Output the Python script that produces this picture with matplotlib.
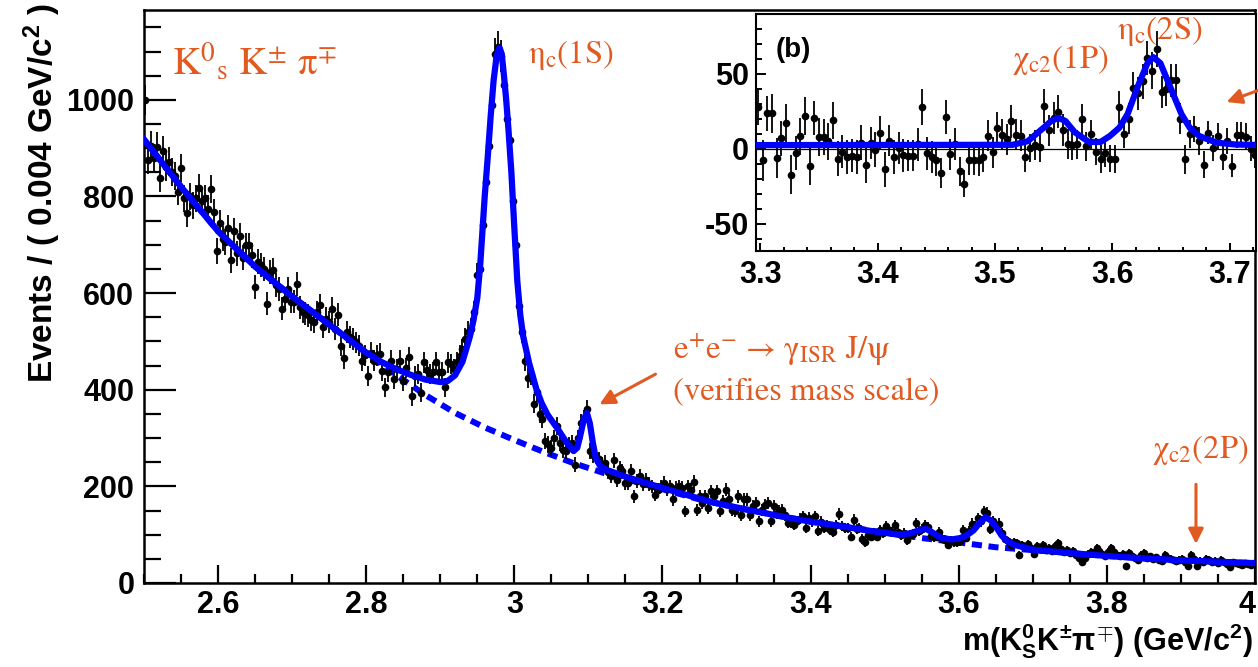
import numpy as np
import matplotlib
matplotlib.use("Agg")
import matplotlib.pyplot as plt
from matplotlib.ticker import MultipleLocator, FixedLocator

plt.rcParams["font.family"] = ["Liberation Sans", "DejaVu Sans"]
plt.rcParams["axes.unicode_minus"] = False
plt.rcParams["mathtext.fontset"] = "custom"
plt.rcParams["mathtext.rm"] = "Liberation Sans:bold"
plt.rcParams["mathtext.it"] = "Liberation Sans:bold"
plt.rcParams["mathtext.bf"] = "Liberation Sans:bold"
plt.rcParams["mathtext.sf"] = "Liberation Sans:bold"

# events per 4 MeV bin, 2.500 - 4.000 GeV
counts = [
    1000, 876, 905, 880, 903, 838, 895, 862, 872, 850, 842, 810, 859, 796, 765, 800, 782, 796, 818, 790, 796, 775, 815, 767, 687,
    745, 713, 706, 735, 668, 728, 682, 718, 673, 699, 699, 678, 612, 665, 658, 650, 578, 644, 647, 616, 609, 568, 588, 609, 582,
    582, 619, 571, 561, 558, 554, 544, 540, 560, 575, 530, 547, 540, 568, 526, 555, 491, 465, 520, 509, 505, 498, 491, 460, 471,
    429, 477, 460, 471, 474, 439, 405, 436, 460, 422, 443, 460, 418, 445, 467, 387, 429, 432, 394, 457, 440, 432, 436, 457, 436,
    436, 405, 457, 453, 443, 457, 470, 484, 505, 520, 525, 560, 637, 650, 740, 830, 905, 990, 1094, 1110, 1090, 1030, 960, 916, 790,
    700, 574, 520, 460, 425, 430, 371, 395, 350, 340, 294, 287, 280, 300, 325, 290, 276, 273, 285, 290, 245, 300, 332, 340, 360,
    273, 265, 262, 256, 245, 249, 230, 221, 254, 214, 238, 231, 207, 207, 231, 180, 212, 221, 204, 214, 205, 200, 183, 193, 200,
    207, 195, 200, 173, 197, 200, 197, 148, 200, 193, 210, 152, 180, 166, 180, 155, 190, 180, 190, 148, 170, 193, 173, 152, 148,
    180, 141, 173, 173, 141, 159, 166, 128, 152, 162, 166, 128, 159, 145, 150, 152, 140, 124, 124, 121, 128, 133, 138, 114, 135,
    128, 138, 108, 127, 114, 120, 110, 106, 120, 143, 118, 114, 114, 96, 131, 112, 114, 91, 84, 100, 96, 104, 96, 110, 103,
    117, 110, 106, 120, 106, 100, 104, 89, 100, 102, 124, 108, 112, 120, 115, 98, 95, 96, 106, 92, 90, 79, 88, 84, 84,
    86, 110, 94, 108, 123, 118, 134, 128, 148, 145, 111, 128, 118, 123, 104, 92, 86, 79, 84, 82, 58, 78, 74, 80, 72,
    60, 77, 70, 79, 69, 72, 66, 76, 82, 70, 64, 68, 62, 66, 58, 52, 44, 51, 60, 65, 62, 72, 66, 60, 56,
    64, 72, 65, 58, 56, 60, 35, 62, 56, 52, 48, 58, 62, 52, 55, 50, 53, 48, 46, 58, 52, 50, 47, 45, 48,
    50, 44, 35, 58, 50, 35, 46, 44, 50, 48, 43, 46, 42, 48, 44, 40, 34, 44, 42, 40, 38, 42, 40, 38, 42,
]
mass = 2.502 + 0.004 * np.arange(len(counts))

# total fit
fit_x = [2.50, 2.55, 2.60, 2.65, 2.70, 2.75, 2.80, 2.82, 2.84, 2.86, 2.88, 2.90, 2.91, 2.92, 2.93,
         2.94, 2.945, 2.95, 2.954, 2.957, 2.960, 2.964, 2.968, 2.972, 2.976, 2.980, 2.983, 2.986,
         2.989, 2.992, 2.996, 3.000, 3.004, 3.008, 3.012, 3.020, 3.030, 3.037, 3.045, 3.059, 3.070,
         3.080, 3.085, 3.089, 3.094, 3.098, 3.102, 3.106, 3.110, 3.116, 3.125, 3.15, 3.18, 3.224,
         3.27, 3.314, 3.36, 3.40, 3.44, 3.48, 3.52, 3.535, 3.548, 3.556, 3.564, 3.575, 3.59, 3.602,
         3.612, 3.62, 3.628, 3.636, 3.643, 3.65, 3.658, 3.666, 3.675, 3.70, 3.75, 3.80, 3.85, 3.90,
         3.95, 4.00]
fit_y = [918, 820, 728, 655, 593, 535, 477, 458, 443, 431, 421, 416, 418, 430, 458,
         510, 545, 590, 660, 730, 800, 880, 965, 1040, 1090, 1108, 1095, 1050,
         1000, 940, 850, 735, 625, 555, 510, 455, 400, 372, 348, 318, 292,
         273, 280, 305, 340, 352, 330, 290, 258, 242, 234, 220, 206, 186,
         166, 152, 138, 127, 118, 108, 100, 103, 110, 112, 105, 94, 90, 93,
         100, 109, 124, 136, 130, 117, 98, 86, 79, 69, 62, 56, 51, 47,
         44, 41]

# background component
bg_x = [2.50, 2.55, 2.60, 2.65, 2.70, 2.75, 2.80, 2.84, 2.88, 2.92, 2.96, 3.00, 3.04, 3.08, 3.12,
        3.16, 3.20, 3.25, 3.30, 3.35, 3.40, 3.45, 3.50, 3.55, 3.60, 3.65, 3.70, 3.75, 3.80, 3.85,
        3.90, 3.95, 4.00]
bg_y = [918, 820, 728, 655, 593, 535, 476, 431, 389, 352, 322, 296, 271, 248, 228,
        211, 194, 173, 156, 141, 127, 116, 104, 93, 84, 74, 68, 62, 56, 51,
        47, 44, 41]

# inset (b): background subtracted
inset_counts = [
    27.8, -7.8, 23.5, 23.5, -6.2, 6.9, 17.1, -17.3, -2.6, 8.3, 21.9, -11.4, 20.2, 8.0, 7.6, 5.0, 18.8, -6.6, -1.9, -5.4, -4.7, -5.4, 4.0, -10.9, 4.0,
    -0.7, 10.7, -13.8, 5.2, -5.4, 0.5, -4.3, -4.7, -4.7, 2.9, 27.8, -3.1, -5.4, -7.8, -16.1, 21.2, -3.8, 2.9, -15.0, -23.3, -7.8, -7.8, -7.8, -5.4, 8.8,
    -2.4, 13.6, 9.3, 6.4, 18.3, 9.3, 8.8, -5.4, 0.5, 2.2, 1.2, 28.5, 12.4, 20.7, 24.7, 12.4, 2.9, 2.2, 2.9, 19.5, 1.7, 9.5, -1.9, -6.6, -3.1,
    -6.6, -6.6, 27.8, 10.0, 20.0, 40.2, 36.9, 45.0, 60.4, 52.1, 66.6, 37.8, 40.0, 45.6, 45.6, 20.0, -7.1, 10.0, 13.1, 5.0, -10.7, 10.7, 0.5, 8.3, -5.4,
    5.0, -11.4, 9.3, 9.3, 8.0, 0.0, -4.3,
]
inset_mass = 3.298 + 0.004 * np.arange(len(inset_counts))
inset_err = np.sqrt(counts[199:199 + len(inset_counts)])

inset_fit_x = [3.296, 3.515, 3.528, 3.540, 3.548, 3.554, 3.560, 3.568, 3.580, 3.590, 3.598, 3.606,
               3.613, 3.622, 3.630, 3.635, 3.641, 3.650, 3.659, 3.666, 3.674, 3.689, 3.705, 3.7225]
inset_fit_y = [2.4, 2.6, 5, 13, 18.5, 20.5, 18.5, 11, 4.5, 4.5, 8.5, 14,
               23, 42, 57, 61, 57, 40, 23, 14, 8.5, 4, 2.8, 2.5]

orange = "#E05A22"
serif = dict(fontfamily="STIXGeneral", math_fontfamily="stix", color=orange, fontweight="normal")
arrow = dict(arrowstyle="-|>,head_length=0.9,head_width=0.45", color=orange, lw=2.2)

fig = plt.figure(figsize=(12.58, 6.67), dpi=100)
ax = fig.add_axes([0.11447, 0.12594, 0.88315, 0.85907])

ax.plot(bg_x, bg_y, color="blue", lw=4.3, ls=(0, (1.7, 1.1)), zorder=2)
ax.errorbar(mass, counts, yerr=np.sqrt(counts), fmt="o", color="black", ms=4.5,
            elinewidth=1.3, capsize=0, zorder=3)
ax.plot(fit_x, fit_y, color="blue", lw=4.5, zorder=4)

ax.set_xlim(2.5, 4.0)
ax.set_ylim(0, 1186)
ax.xaxis.set_major_locator(FixedLocator([2.6, 2.8, 3.0, 3.2, 3.4, 3.6, 3.8, 4.0]))
ax.set_xticklabels(["2.6", "2.8", "3", "3.2", "3.4", "3.6", "3.8", "4"])
ax.xaxis.set_minor_locator(MultipleLocator(0.05))
ax.yaxis.set_major_locator(MultipleLocator(200))
ax.yaxis.set_minor_locator(MultipleLocator(50))
ax.tick_params(axis="y", which="major", direction="in", length=23, width=1.6, labelsize=22, pad=7)
ax.tick_params(axis="y", which="minor", direction="in", length=12, width=1.6)
ax.tick_params(axis="x", which="major", direction="in", length=13, width=1.6, labelsize=22, pad=5)
ax.tick_params(axis="x", which="minor", direction="in", length=6.5, width=1.6)
for s in ax.spines.values():
    s.set_linewidth(1.8)
ax.get_xticklabels()[-1].set_horizontalalignment("right")

fig.text(0.0334, 0.995, "Events / ( 0.004 GeV/c$^{2}$ )", rotation=90, ha="center", va="top",
         fontsize=24, fontweight="bold")
fig.text(1253 / 1258, 1 - 641 / 667, r"m(K$^{0}_{S}$K$^{\pm}\pi^{\mp}$) (GeV/c$^{2}$)", ha="right",
         va="center", fontsize=22, fontweight="bold")

ax.text(2.5378, 1079, "K$^{0}$$_{\\rm s}$ K$^{\\pm}$ π$^{\\mp}$", fontsize=28, va="center", **serif)
ax.text(3.0184, 1093, "η$_{\\rm c}$(1S)", fontsize=23.5, va="center", **serif)
ax.text(3.2142, 483, "e$^{+}$e$^{-}$ → γ$_{\\rm ISR}$ J/ψ", fontsize=23.5, va="center", **serif)
ax.text(3.2142, 394, "(verifies mass scale)", fontsize=23.5, va="center", **serif)
ax.text(3.861, 276, "χ$_{\\rm c2}$(2P)", fontsize=23.5, va="center", **serif)
ax.annotate("", xy=(3.1116, 367), xytext=(3.1939, 435), arrowprops=arrow)
ax.annotate("", xy=(3.9203, 75), xytext=(3.9203, 210), arrowprops=arrow)

# inset (b)
ins = fig.add_axes([0.60095, 0.62429, 0.39746, 0.35547])
ins.set_facecolor("white")
ins.axhline(0, color="black", lw=0.9, zorder=1)
ins.errorbar(inset_mass, inset_counts, yerr=inset_err, fmt="o", color="black", ms=4.5,
             elinewidth=1.3, capsize=0, zorder=3)
ins.plot(inset_fit_x, inset_fit_y, color="blue", lw=4.5, zorder=4)
ins.set_xlim(3.2963, 3.7225)
ins.set_ylim(-67.9, 90.1)
ins.xaxis.set_major_locator(MultipleLocator(0.1))
ins.xaxis.set_minor_locator(MultipleLocator(0.02))
ins.yaxis.set_major_locator(FixedLocator([-50, 0, 50]))
ins.yaxis.set_minor_locator(MultipleLocator(10))
ins.tick_params(axis="y", which="major", direction="in", length=7.5, width=1.4, labelsize=22, pad=5)
ins.tick_params(axis="y", which="minor", direction="in", length=4, width=1.4)
ins.tick_params(axis="x", which="major", direction="in", length=6, width=1.4, labelsize=22, pad=7)
ins.tick_params(axis="x", which="minor", direction="in", length=3, width=1.4)
for s in ins.spines.values():
    s.set_linewidth(1.5)
ins.text(3.3278, 65.8, "(b)", fontsize=20, fontweight="bold", ha="center", va="center")
ins.text(3.5145, 59.1, "χ$_{\\rm c2}$(1P)", fontsize=23.5, va="center", **serif)
ins.text(3.604, 78.5, "η$_{\\rm c}$(2S)", fontsize=23.5, va="center", **serif)
ins.annotate("", xy=(3.6952, 30.5), xytext=(3.7276, 39.8), annotation_clip=False, arrowprops=arrow)

for a in (ax, ins):
    for lbl in a.get_xticklabels() + a.get_yticklabels():
        lbl.set_fontweight("bold")

fig.savefig("out.png", dpi=100)
